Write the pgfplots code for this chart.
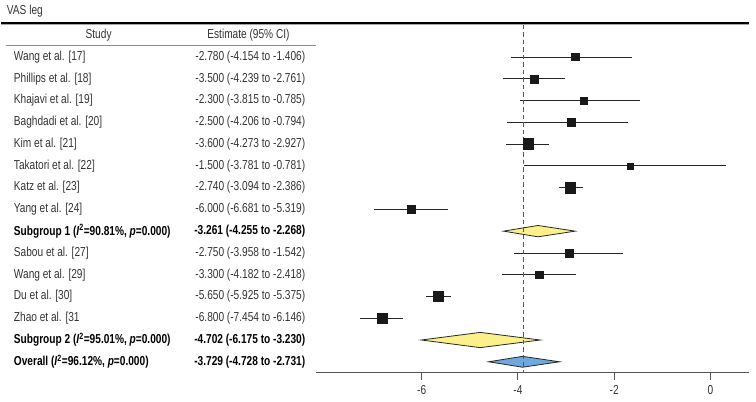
\documentclass[border=0pt]{standalone}
\usepackage{fontspec}
\setmainfont{Liberation Sans}[FakeStretch=0.78]
\usepackage{pgfplots}
\pgfplotsset{compat=1.18}
\usepackage{pgfplotstable}
\definecolor{diayel}{HTML}{FBF08A}
\definecolor{diablue}{HTML}{6FA8DC}
\definecolor{txtgray}{HTML}{333333}
\definecolor{axgray}{HTML}{555555}
\definecolor{refred}{RGB}{220,30,40}

\pgfplotstableread{
row est lo hi s
0 -2.810 -4.145 -1.633 3.6
1 -3.667 -4.319 -3.018 4.0
2 -2.638 -3.966 -1.454 3.6
3 -2.893 -4.222 -1.710 3.6
4 -3.786 -4.257 -3.350 5.4
5 -1.662 -3.875 0.318 3.0
6 -2.914 -3.148 -2.644 5.4
7 -6.208 -6.983 -5.453 4.0
9 -2.941 -4.076 -1.820 4.0
10 -3.564 -4.340 -2.796 4.0
11 -5.660 -5.903 -5.384 5.0
12 -6.823 -7.288 -6.381 5.4
}\studies

\newcommand{\fs}{\fontsize{13bp}{15bp}\selectfont}

\begin{document}
\begin{tikzpicture}[x=1bp,y=1bp,
  txt/.style={font=\fs, text=txtgray, inner sep=0pt},
  btxt/.style={font=\fs\bfseries, text=black, inner sep=0pt}]
\begin{axis}[
  scale only axis,
  width=432.7bp, height=350bp,
  xmin=-8.187, xmax=0.796,
  ymin=-1.56, ymax=14.5,
  y dir=reverse,
  clip=false,
  axis x line*=bottom,
  axis y line=none,
  x axis line style={axgray, line width=0.9pt, -},
  xtick={-6,-4,-2,0},
  tick align=outside,
  major tick length=7bp,
  x tick style={axgray, line width=0.9pt},
  ytick=\empty,
  /pgf/number format/assume math mode=true,
  xticklabel style={font=\fs, text=txtgray, yshift=-2bp},
]
% bounding box
\path (axis cs:-14.747,-2.616) rectangle (axis cs:0.947,15.833);

% top thick line and header line
\draw[black!35, line width=1pt] (axis cs:-14.747,-1.50) -- (axis cs:0.796,-1.50);
\draw[black, line width=1.5pt] (axis cs:-14.747,-1.56) -- (axis cs:0.796,-1.56);
\draw[black!45, line width=0.6pt] (axis cs:-14.643,-0.55) -- (axis cs:-8.187,-0.55);

% studies
\addplot[only marks, mark=square*, black!90,
  scatter, scatter/use mapped color={draw=black!90, fill=black!90},
  visualization depends on={\thisrow{s} \as \msize},
  scatter/@pre marker code/.append style={/tikz/mark size=\msize},
  error bars/.cd, x dir=both, x explicit,
  error bar style={line width=0.8pt, black!85}, error mark=none]
  table[x=est, y=row,
    x error plus expr=\thisrow{hi}-\thisrow{est},
    x error minus expr=\thisrow{est}-\thisrow{lo}]{\studies};

% diamonds
\addplot[fill=diayel, draw=black!85, line width=0.8pt] coordinates {(-4.299,8) (-3.584,7.74) (-2.810,8) (-3.584,8.26)} -- cycle;
\addplot[fill=diayel, draw=black!85, line width=0.8pt] coordinates {(-6.007,13) (-4.782,12.65) (-3.537,13) (-4.782,13.35)} -- cycle;
\addplot[fill=diablue, draw=black!85, line width=0.8pt] coordinates {(-4.610,14) (-3.904,13.75) (-3.136,14) (-3.904,14.25)} -- cycle;

% reference dashed line (on top)
\addplot[draw=refred, no marks, line width=1.2pt, dash pattern=on 4.5bp off 3bp] coordinates {(-3.883,-1.468) (-3.883,14.5)};

% title and headers
\node[txt, anchor=west] at (axis cs:-14.622,-2.111) {VAS leg};
\node[txt] at (axis cs:-12.713,-1.01) {Study};
\node[txt] at (axis cs:-9.599,-1.01) {Estimate (95\% CI)};

% study names
\node[txt, anchor=west] at (axis cs:-14.477,0) {Wang et al. [17]};
\node[txt, anchor=west] at (axis cs:-14.477,1) {Phillips et al. [18]};
\node[txt, anchor=west] at (axis cs:-14.477,2) {Khajavi et al. [19]};
\node[txt, anchor=west] at (axis cs:-14.477,3) {Baghdadi et al. [20]};
\node[txt, anchor=west] at (axis cs:-14.477,4) {Kim et al. [21]};
\node[txt, anchor=west] at (axis cs:-14.477,5) {Takatori et al. [22]};
\node[txt, anchor=west] at (axis cs:-14.477,6) {Katz et al. [23]};
\node[txt, anchor=west] at (axis cs:-14.477,7) {Yang et al. [24]};
\node[btxt, anchor=west] at (axis cs:-14.477,8) {Subgroup 1 (\textit{I}\textsuperscript{2}=90.81\%, \textit{p}=0.000)};
\node[txt, anchor=west] at (axis cs:-14.477,9) {Sabou et al. [27]};
\node[txt, anchor=west] at (axis cs:-14.477,10) {Wang et al. [29]};
\node[txt, anchor=west] at (axis cs:-14.477,11) {Du et al. [30]};
\node[txt, anchor=west] at (axis cs:-14.477,12) {Zhao et al. [31};
\node[btxt, anchor=west] at (axis cs:-14.477,13) {Subgroup 2 (\textit{I}\textsuperscript{2}=95.01\%, \textit{p}=0.000)};
\node[btxt, anchor=west] at (axis cs:-14.477,14) {Overall (\textit{I}\textsuperscript{2}=96.12\%, \textit{p}=0.000)};

% estimates
\node[txt, anchor=east] at (axis cs:-8.415,0) {-2.780 (-4.154 to -1.406)};
\node[txt, anchor=east] at (axis cs:-8.415,1) {-3.500 (-4.239 to -2.761)};
\node[txt, anchor=east] at (axis cs:-8.415,2) {-2.300 (-3.815 to -0.785)};
\node[txt, anchor=east] at (axis cs:-8.415,3) {-2.500 (-4.206 to -0.794)};
\node[txt, anchor=east] at (axis cs:-8.415,4) {-3.600 (-4.273 to -2.927)};
\node[txt, anchor=east] at (axis cs:-8.415,5) {-1.500 (-3.781 to -0.781)};
\node[txt, anchor=east] at (axis cs:-8.415,6) {-2.740 (-3.094 to -2.386)};
\node[txt, anchor=east] at (axis cs:-8.415,7) {-6.000 (-6.681 to -5.319)};
\node[btxt, anchor=east] at (axis cs:-8.415,8) {-3.261 (-4.255 to -2.268)};
\node[txt, anchor=east] at (axis cs:-8.415,9) {-2.750 (-3.958 to -1.542)};
\node[txt, anchor=east] at (axis cs:-8.415,10) {-3.300 (-4.182 to -2.418)};
\node[txt, anchor=east] at (axis cs:-8.415,11) {-5.650 (-5.925 to -5.375)};
\node[txt, anchor=east] at (axis cs:-8.415,12) {-6.800 (-7.454 to -6.146)};
\node[btxt, anchor=east] at (axis cs:-8.415,13) {-4.702 (-6.175 to -3.230)};
\node[btxt, anchor=east] at (axis cs:-8.415,14) {-3.729 (-4.728 to -2.731)};
\end{axis}
\end{tikzpicture}
\end{document}
